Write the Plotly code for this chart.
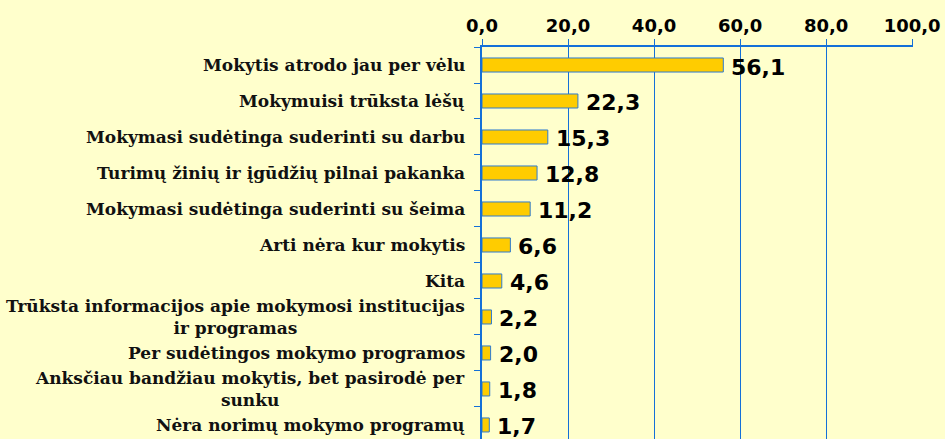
import plotly.graph_objects as go

categories = [
    "Mokytis atrodo jau per vėlu",
    "Mokymuisi trūksta lėšų",
    "Mokymasi sudėtinga suderinti su darbu",
    "Turimų žinių ir įgūdžių pilnai pakanka",
    "Mokymasi sudėtinga suderinti su šeima",
    "Arti nėra kur mokytis",
    "Kita",
    "Trūksta informacijos apie mokymosi institucijas<br>ir programas",
    "Per sudėtingos mokymo programos",
    "Anksčiau bandžiau mokytis, bet pasirodė per<br>sunku",
    "Nėra norimų mokymo programų",
]
values = [56.1, 22.3, 15.3, 12.8, 11.2, 6.6, 4.6, 2.2, 2.0, 1.8, 1.7]
x_ticks = [0, 20, 40, 60, 80, 100]

BLUE = "#1470D8"
BG = "#FFFFCC"

fig = go.Figure()
fig.add_trace(
    go.Bar(
        x=values,
        y=categories,
        orientation="h",
        width=0.39,
        marker=dict(color="#FFCC00", line=dict(color="#2F7BD0", width=1)),
        hoverinfo="skip",
    )
)

annotations = []
# category labels (centred multi-line, right-aligned block)
for cat in categories:
    annotations.append(
        dict(
            x=0, y=cat, xref="x", yref="y", text=cat, showarrow=False,
            xanchor="right", align="center", xshift=-15,
            font=dict(family="DejaVu Serif", size=17, color="#111111", weight="bold"),
        )
    )
# value labels
for cat, v in zip(categories, values):
    annotations.append(
        dict(
            x=v, y=cat, xref="x", yref="y", text=f"{v:.1f}".replace(".", ","),
            showarrow=False, xanchor="left", xshift=6, yshift=-2,
            font=dict(family="DejaVu Sans", size=22, color="#000000", weight="bold"),
        )
    )

fig.update_layout(
    width=945,
    height=439,
    margin=dict(l=482, r=32, t=47, b=0, autoexpand=False),
    paper_bgcolor=BG,
    plot_bgcolor=BG,
    showlegend=False,
    separators=",.",
    annotations=annotations,
    font=dict(family="DejaVu Sans", color="#000000"),
    xaxis=dict(
        side="top",
        range=[0, 100.2],
        tickvals=x_ticks,
        tickformat=".1f",
        tickfont=dict(family="DejaVu Sans", size=18, color="#000000", weight="bold"),
        automargin=False,
        showgrid=True,
        gridcolor=BLUE,
        gridwidth=1,
        showline=True,
        linecolor=BLUE,
        linewidth=1.5,
        ticks="outside",
        ticklen=6,
        tickcolor=BLUE,
        zeroline=False,
    ),
    yaxis=dict(
        type="category",
        categoryorder="array",
        categoryarray=categories,
        range=[10.39, -0.5],
        showticklabels=False,
        automargin=False,
        showline=True,
        linecolor=BLUE,
        linewidth=1.5,
        ticks="outside",
        ticklen=6,
        tickcolor=BLUE,
        tickson="boundaries",
        showgrid=False,
    ),
)

fig.write_html(
    "out.html",
    config={"displayModeBar": False},
    post_script="document.body.style.margin='0';document.body.style.background='#FFFFCC';",
)
